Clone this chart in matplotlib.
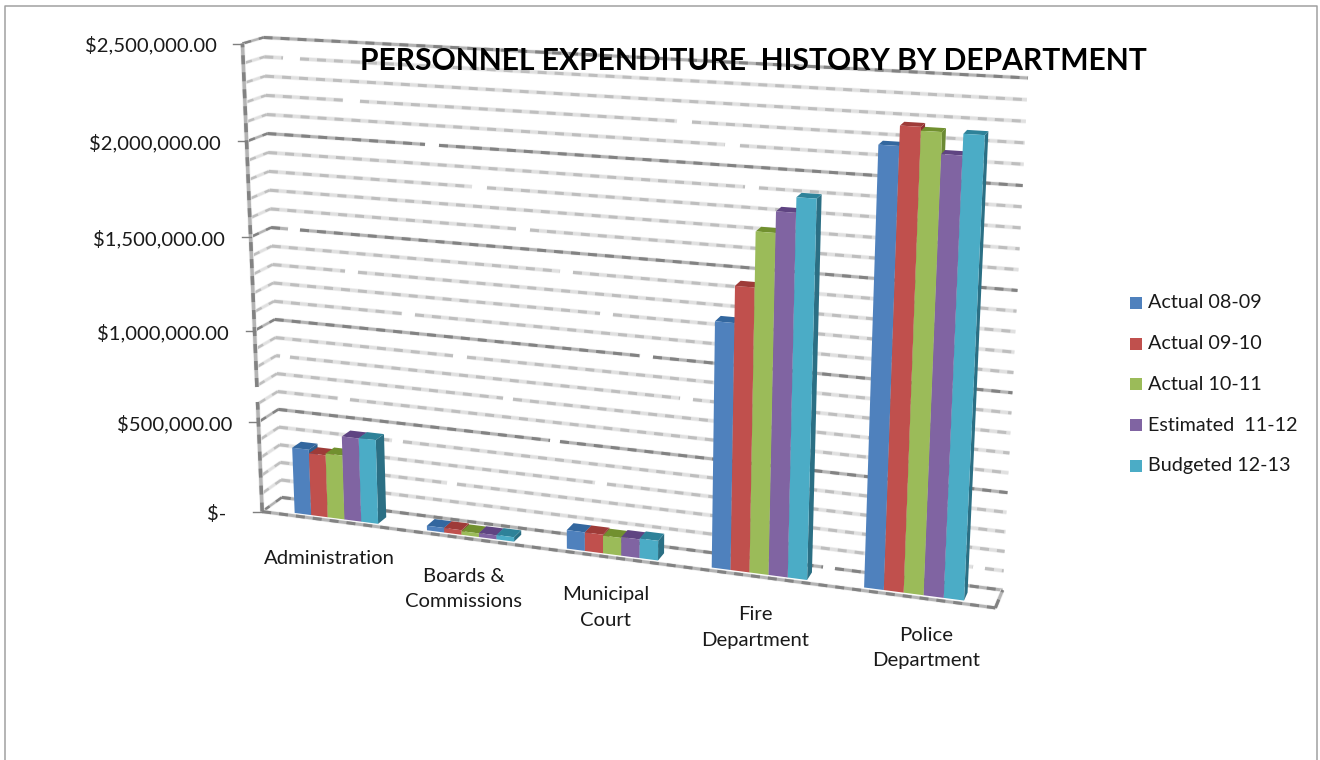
import numpy as np
import matplotlib
matplotlib.use("Agg")
import matplotlib.pyplot as plt
from matplotlib.patches import Polygon, Rectangle

# ---- data ----
departments = ["Administration", "Boards &\nCommissions", "Municipal\nCourt", "Fire\nDepartment", "Police\nDepartment"]
series_names = ["Actual 08-09", "Actual 09-10", "Actual 10-11", "Estimated  11-12", "Budgeted 12-13"]
actual_08_09 = [365000, 25000, 100000, 1270000, 2185000]
actual_09_10 = [345000, 25000, 100000, 1455000, 2280000]
actual_10_11 = [355000, 20000, 95000, 1730000, 2262000]
estimated_11_12 = [460000, 22000, 100000, 1835000, 2160000]
budgeted_12_13 = [462000, 24000, 105000, 1910000, 2260000]
all_series = [actual_08_09, actual_09_10, actual_10_11, estimated_11_12, budgeted_12_13]
tick_values = [0, 500000, 1000000, 1500000, 2000000, 2500000]
tick_labels = ["$-", "$500,000.00", "$1,000,000.00", "$1,500,000.00", "$2,000,000.00", "$2,500,000.00"]
title = "PERSONNEL EXPENDITURE  HISTORY BY DEPARTMENT"
VMAX = 2500000
MINOR = 100000

# ---- style ----
front_c = ["#4F81BD", "#C0504D", "#9BBB59", "#8064A2", "#4BACC6"]
cap_c = ["#33679F", "#9E3B38", "#71902F", "#5F4482", "#2E8299"]
side_c = ["#2F5F8E", "#8E3230", "#6B8A33", "#56407A", "#2B6F84"]
FONT = ["Lato", "DejaVu Sans"]
label_shift = [1, -1, -2, -2, 12]
band_start = [0.222, 0.205, 0.20, 0.185, 0.175]

# camera: box corners (category position, depth, value fraction) -> picture pixels
box_world = [(0, 0, 0), (5, 0, 0), (0, 1, 0), (5, 1, 0), (0, 0, 1), (0, 1, 1), (5, 1, 1)]
box_pixel = [(262, 512), (995, 608), (282, 497), (1003, 590), (243, 43), (263, 38), (1028, 78)]
rows = []
for (a, b, c), (px_, py_) in zip(box_world, box_pixel):
    rows.append([a, b, c, 1, 0, 0, 0, 0, -px_ * a, -px_ * b, -px_ * c, -px_])
    rows.append([0, 0, 0, 0, a, b, c, 1, -py_ * a, -py_ * b, -py_ * c, -py_])
CAM = np.linalg.svd(np.array(rows, float))[2][-1].reshape(3, 4)


def proj(u, d, v):
    h = CAM @ np.array([u, d, v / VMAX, 1.0])
    return h[0] / h[2], h[1] / h[2]


fig = plt.figure(figsize=(13.2, 7.6), dpi=100)
ax = fig.add_axes([0, 0, 1, 1])
ax.set_xlim(0, 1320)
ax.set_ylim(760, 0)
ax.axis("off")

px = 0.72  # points per pixel


def stroke(xs, ys, major, z=1, wide=3.0):
    base, dash = ("#b4b4b4", "#828282") if major else ("#e0e0e0", "#bebebe")
    ax.plot(xs, ys, color="#f0f0f0", lw=(wide + 1.5) * px, zorder=z - 0.1, solid_capstyle="butt")
    ax.plot(xs, ys, color=base, lw=wide * px, zorder=z, solid_capstyle="butt")
    ax.plot(xs, ys, color=dash, lw=wide * px, zorder=z + 0.05, dashes=(9 / wide, 8 / wide), dash_capstyle="butt")


# breaks in the wall gridlines, in picture x, by gridline index
gaps = {24: [(283, 300)], 22: [(343, 360), (677, 692)], 21: [(725, 740)], 20: [(425, 439)],
        19: [(745, 759)], 18: [(472, 487)], 16: [(516, 530)], 15: [(288, 300)], 14: [(560, 573)],
        13: [(345, 358)], 12: [(600, 613)], 11: [(402, 415)], 10: [(640, 653)], 9: [(453, 467)],
        8: [(280, 290), (680, 693)], 7: [(503, 513)], 6: [(338, 350)], 5: [(550, 560)],
        4: [(392, 403)], 3: [(595, 607)], 2: [(447, 457)], 1: [(973, 985)], 0: [(823, 835)]}

for i in range(int(VMAX / MINOR) + 1):
    v = i * MINOR
    major = i % 5 == 0
    x0, y0 = proj(0, 0, v)
    x1, y1 = proj(0, 1, v)
    x2, y2 = proj(5, 1, v)
    stroke([x0, x1], [y0, y1], major, wide=2.4)
    edges = [x1] + [e for g in gaps.get(i, []) for e in g] + [x2]
    for a, b in zip(edges[0::2], edges[1::2]):
        ya = y1 + (a - x1) / (x2 - x1) * (y2 - y1)
        yb = y1 + (b - x1) / (x2 - x1) * (y2 - y1)
        stroke([a, b], [ya, yb], major)

# floor front and right edges, wall front edge
fx0, fy0 = proj(0, 0, 0)
fx1, fy1 = proj(5, 0, 0)
rx, ry = proj(5, 1, 0)
stroke([fx0, fx1], [fy0, fy1], True, z=1.5)
stroke([fx1, rx], [fy1, ry], True, z=1.5)
ex, ey = proj(0, 0, VMAX)
gx0 = fx0 + (ex - fx0) * (512 - 402) / (512 - 43)
gx1 = fx0 + (ex - fx0) * (512 - 387) / (512 - 43)
stroke([fx0, gx0], [fy0, 402], True, z=1.5, wide=3.5)
stroke([gx1, ex], [387, ey], True, z=1.5, wide=3.5)

# value axis ticks and labels
for val, lab in zip(tick_values, tick_labels):
    x, y = proj(0, 0, val)
    ax.plot([x - 9, x], [y, y], color="#7f7f7f", lw=1.0, zorder=2)
    right = x - 26 if val else x - 36
    ax.text(right, y + 2, lab, ha="right", va="center", fontsize=14.6, family=FONT, color="#1a1a1a")

# bars
D0, D1 = 0.17, 0.62
BW = 0.125
n = len(all_series)
for c in range(len(departments)):
    for s in range(n):
        v = all_series[s][c]
        u0 = c + band_start[c] + s * BW
        u1 = u0 + BW
        z = 3 + s * 0.1
        ax.add_patch(Polygon([proj(u1, D0, 0), proj(u1, D1, 0), proj(u1, D1, v), proj(u1, D0, v)],
                             facecolor=side_c[s], edgecolor="none", zorder=z))
        ax.add_patch(Polygon([proj(u0, D0, v), proj(u1, D0, v), proj(u1, D1, v), proj(u0, D1, v)],
                             facecolor=cap_c[s], edgecolor="none", zorder=z))
        ax.add_patch(Polygon([proj(u0, D0, 0), proj(u1, D0, 0), proj(u1, D0, v), proj(u0, D0, v)],
                             facecolor=front_c[s], edgecolor="none", zorder=z))

# category labels
for c, name in enumerate(departments):
    x, y = proj(c + 0.5, 0, 0)
    ax.text(x + label_shift[c], y + 29.5, name, ha="center", va="top", fontsize=14.6, family=FONT,
            color="#1a1a1a", linespacing=1.6)

# title
ax.text(753, 61, title, ha="center", va="center", fontsize=21.6, fontweight="bold", family=FONT, color="black", zorder=6)

# legend
for s, name in enumerate(series_names):
    y = 303 + s * 40.7
    ax.add_patch(Rectangle((1130, y - 6), 12, 12, facecolor=front_c[s], edgecolor="none"))
    ax.text(1148, y, name, ha="left", va="center", fontsize=14.2, family=FONT, color="#1a1a1a")

# chart frame
ax.plot([5, 5, 1317, 1317], [760, 6, 6, 760], color="#a0a0a0", lw=1.1, zorder=0)

fig.savefig("out.png", dpi=100)
